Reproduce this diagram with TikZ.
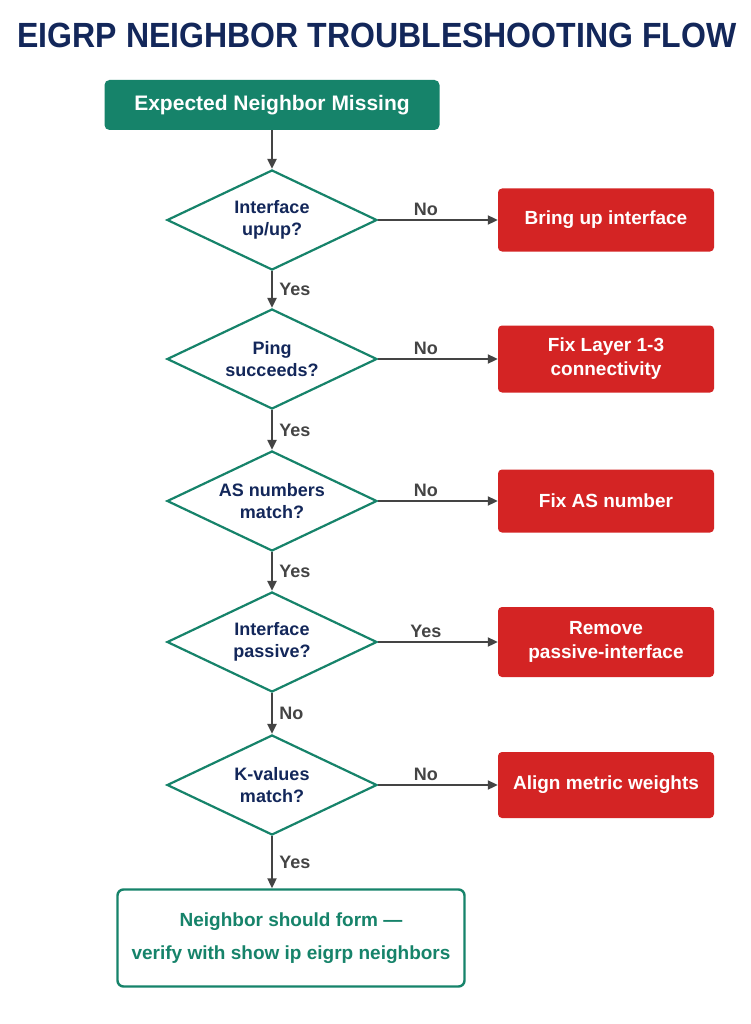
\documentclass[tikz,border=0pt]{standalone}
\usepackage{fontspec}
\setmainfont{Liberation Sans}
\usetikzlibrary{shapes.geometric,arrows.meta}
\definecolor{navy}{HTML}{13275A}
\definecolor{grn}{HTML}{16836A}
\definecolor{rd}{HTML}{D42424}
\definecolor{ar}{HTML}{444444}
\begin{document}
\begin{tikzpicture}[x=1pt,y=-1pt,
  dia/.style={diamond,draw=grn,line width=2.2pt,fill=white,minimum width=210pt,minimum height=100pt,aspect=2.1,inner sep=0pt,align=center,text=navy,font=\bfseries\fontsize{18}{22}\selectfont},
  red/.style={rectangle,rounded corners=4pt,fill=rd,text=white,minimum width=216pt,align=center,font=\bfseries\fontsize{19}{24}\selectfont},
  arr/.style={draw=ar,line width=2pt,-{Triangle[length=10pt,width=9pt]}},
  lab/.style={text=ar,font=\bfseries\fontsize{18}{20}\selectfont}]
\useasboundingbox (0,0) rectangle (750,1024);
\fill[white] (0,0) rectangle (750,1024);
\node[text=navy,font=\bfseries\fontsize{35}{38}\selectfont,xscale=0.915] (title) at (377,35) {EIGRP NEIGHBOR TROUBLESHOOTING FLOW};
\node[rectangle,rounded corners=5pt,fill=grn,text=white,minimum width=335pt,minimum height=50pt,font=\bfseries\fontsize{21}{24}\selectfont] (start) at (272,105) {Expected Neighbor Missing};
\node[dia] (d1) at (272,220) {Interface\\up/up?};
\node[dia] (d2) at (272,359) {Ping\\succeeds?};
\node[dia] (d3) at (272,501) {AS numbers\\match?};
\node[dia] (d4) at (272,642) {Interface\\passive?};
\node[dia] (d5) at (272,785) {K-values\\match?};
\node[red,minimum height=63pt] (r1) at (606,220) {Bring up interface};
\node[red,minimum height=67pt] (r2) at (606,359) {Fix Layer 1-3\\connectivity};
\node[red,minimum height=63pt] (r3) at (606,501) {Fix AS number};
\node[red,minimum height=70pt] (r4) at (606,642) {Remove\\passive-interface};
\node[red,minimum height=66pt] (r5) at (606,785) {Align metric weights};
\node[rectangle,rounded corners=6pt,draw=grn,line width=2.4pt,fill=white,text=grn,minimum width=347pt,minimum height=97pt,align=center,font=\bfseries\fontsize{19}{33}\selectfont] (end) at (291,938) {Neighbor should form —\\verify with show ip eigrp neighbors};
\draw[arr] (start) -- (d1);
\draw[arr] (d1) -- node[lab,right,xshift=3pt]{Yes} (d2);
\draw[arr] (d2) -- node[lab,right,xshift=3pt]{Yes} (d3);
\draw[arr] (d3) -- node[lab,right,xshift=3pt]{Yes} (d4);
\draw[arr] (d4) -- node[lab,right,xshift=3pt]{No} (d5);
\draw[arr] (d5) -- node[lab,right,xshift=3pt]{Yes} (end.north -| d5);
\draw[arr] (d1) -- node[lab,above,pos=0.4]{No} (r1);
\draw[arr] (d2) -- node[lab,above,pos=0.4]{No} (r2);
\draw[arr] (d3) -- node[lab,above,pos=0.4]{No} (r3);
\draw[arr] (d4) -- node[lab,above,pos=0.4]{Yes} (r4);
\draw[arr] (d5) -- node[lab,above,pos=0.4]{No} (r5);
\end{tikzpicture}
\end{document}
